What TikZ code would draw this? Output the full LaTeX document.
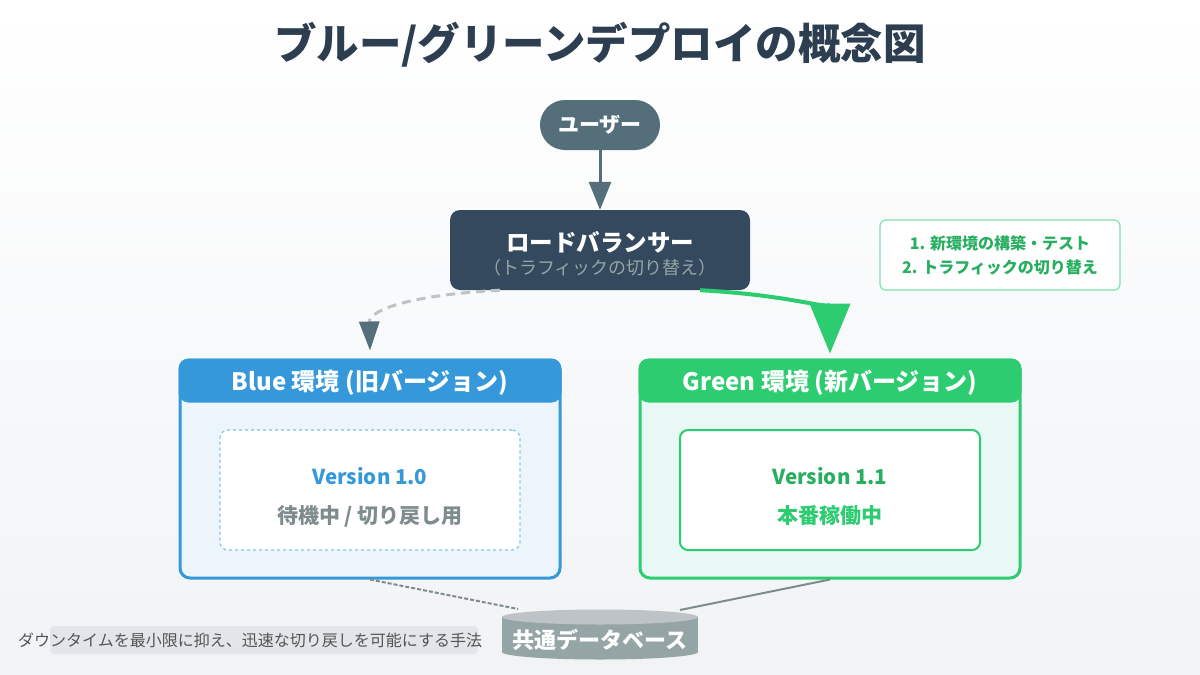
\documentclass[tikz,border=0pt]{standalone}
\usepackage{fontspec}
\setmainfont{Noto Sans CJK JP}
\usetikzlibrary{arrows.meta, positioning, shapes.geometric}

\definecolor{titlec}{HTML}{2C3E50}
\definecolor{userc}{HTML}{546E7A}
\definecolor{lbc}{HTML}{34495E}
\definecolor{lbsub}{HTML}{95A5A6}
\definecolor{bluec}{HTML}{3498DB}
\definecolor{bluebg}{HTML}{EBF5FB}
\definecolor{bluelight}{HTML}{85C1E9}
\definecolor{greenc}{HTML}{2ECC71}
\definecolor{greenbg}{HTML}{E8F8F5}
\definecolor{greendark}{HTML}{27AE60}
\definecolor{notec}{HTML}{82E0AA}
\definecolor{grayc}{HTML}{7F8C8D}
\definecolor{dashc}{HTML}{BDC3C7}
\definecolor{dbc}{HTML}{95A5A6}
\definecolor{dbtop}{HTML}{BDC3C7}
\definecolor{capc}{HTML}{555555}
\definecolor{capbg}{HTML}{E2E5E9}
\definecolor{bgbottom}{HTML}{F1F3F5}

\newcommand{\fsz}[1]{\fontsize{#1}{#1}\selectfont}

\begin{document}
\begin{tikzpicture}[x=1pt, y=-1pt, >=Stealth,
    envbox/.style={rounded corners=10pt, line width=3pt, minimum width=380pt, minimum height=218pt},
    innerbox/.style={rounded corners=8pt, fill=white, minimum width=300pt, minimum height=120pt},
    headtext/.style={text=white, font=\fsz{24}\bfseries},
    vertext/.style={font=\fsz{20.5}\bfseries},
    stattext/.style={font=\fsz{21}\bfseries}]

% 背景
\useasboundingbox (0,0) rectangle (1200,675);
\shade[top color=white, bottom color=bgbottom] (0,0) rectangle (1200,675);

% タイトル
\node[text=titlec, font=\fsz{42.5}\bfseries] (title) at (600,45) {ブルー/グリーンデプロイの概念図};

% ユーザーとロードバランサー
\node[fill=userc, rounded corners=25pt, minimum width=120pt, minimum height=50pt,
      text=white, font=\fsz{21}\bfseries] (user) at (600,125) {ユーザー};
\node[fill=lbc, rounded corners=10pt, minimum width=300pt, minimum height=80pt] (lb) at (600,250) {};
\node[text=white, font=\fsz{23.5}\bfseries] (lbname) at (600,242) {ロードバランサー};
\node[text=lbsub, font=\fsz{18}] (lbsubt) at (600,268) {（トラフィックの切り替え）};
\draw[userc, line width=3pt, -{Triangle[width=22pt, length=28pt]}] (user) -- (lb);

% 手順メモ
\node[draw=notec, line width=1.2pt, fill=white, rounded corners=6pt, minimum width=240pt,
      minimum height=70pt, align=center, text=greendark, font=\fsz{16}\bfseries]
      (note) at (1000,255) {1. 新環境の構築・テスト\\[8pt]2. トラフィックの切り替え};

% Blue 環境
\node[envbox, fill=bluebg] (blue) at (370,469) {};
\fill[bluec, rounded corners=10pt] (blue.north west) rectangle ([yshift=-44pt]blue.north east);
\node[envbox, draw=bluec] at (blue) {};
\node[headtext] (bluehead) at (370,383) {Blue 環境 (旧バージョン)};
\node[innerbox, draw=bluelight, line width=1.2pt, dashed] (bluein) at (370,490) {};
\node[vertext, text=bluec] (bluever) at (370,476) {Version 1.0};
\node[stattext, text=grayc] (bluestat) at (370,516) {待機中 / 切り戻し用};

% Green 環境
\node[envbox, fill=greenbg] (green) at (830,469) {};
\fill[greenc, rounded corners=10pt] (green.north west) rectangle ([yshift=-44pt]green.north east);
\node[envbox, draw=greenc] at (green) {};
\node[headtext] (greenhead) at (830,383) {Green 環境 (新バージョン)};
\node[innerbox, draw=greenc, line width=2pt] (greenin) at (830,490) {};
\node[vertext, text=greendark] (greenver) at (830,476) {Version 1.1};
\node[stattext, text=greenc] (greenstat) at (830,516) {本番稼働中};

% トラフィックの流れ
\draw[dashc, line width=3pt, dash pattern=on 9pt off 6pt,
      -{Triangle[width=20pt, length=29pt, color=userc]}]
      ([xshift=-100pt]lb.south) .. controls (410,295) and (369,310) .. ([yshift=8pt]blue.north);
\draw[greenc, line width=4pt, -{Triangle[width=40pt, length=50pt]}]
      ([xshift=100pt]lb.south) .. controls (790,295) and (830,310) .. ([yshift=5pt]green.north);

% 共通データベース
\fill[dbc] (502,617) rectangle (698,652);
\fill[dbc] (600,652) ellipse (98 and 7.5);
\fill[dbtop] (600,617) ellipse (98 and 7.5);
\node[text=white, font=\fsz{22}\bfseries] (db) at (600,640) {共通データベース};
\coordinate (dbleft) at (518,609);
\coordinate (dbright) at (680,610);
\draw[grayc, line width=2pt, dash pattern=on 4pt off 2pt] (blue.south) -- (dbleft);
\draw[grayc, line width=2pt] (green.south) -- (dbright);

% 説明文
\fill[capbg, rounded corners=4pt] (50,626) rectangle (478,654);
\node[anchor=west, text=capc, font=\fsz{16}, inner sep=0pt] (caption) at (18,640)
      {ダウンタイムを最小限に抑え、迅速な切り戻しを可能にする手法};

\end{tikzpicture}
\end{document}
